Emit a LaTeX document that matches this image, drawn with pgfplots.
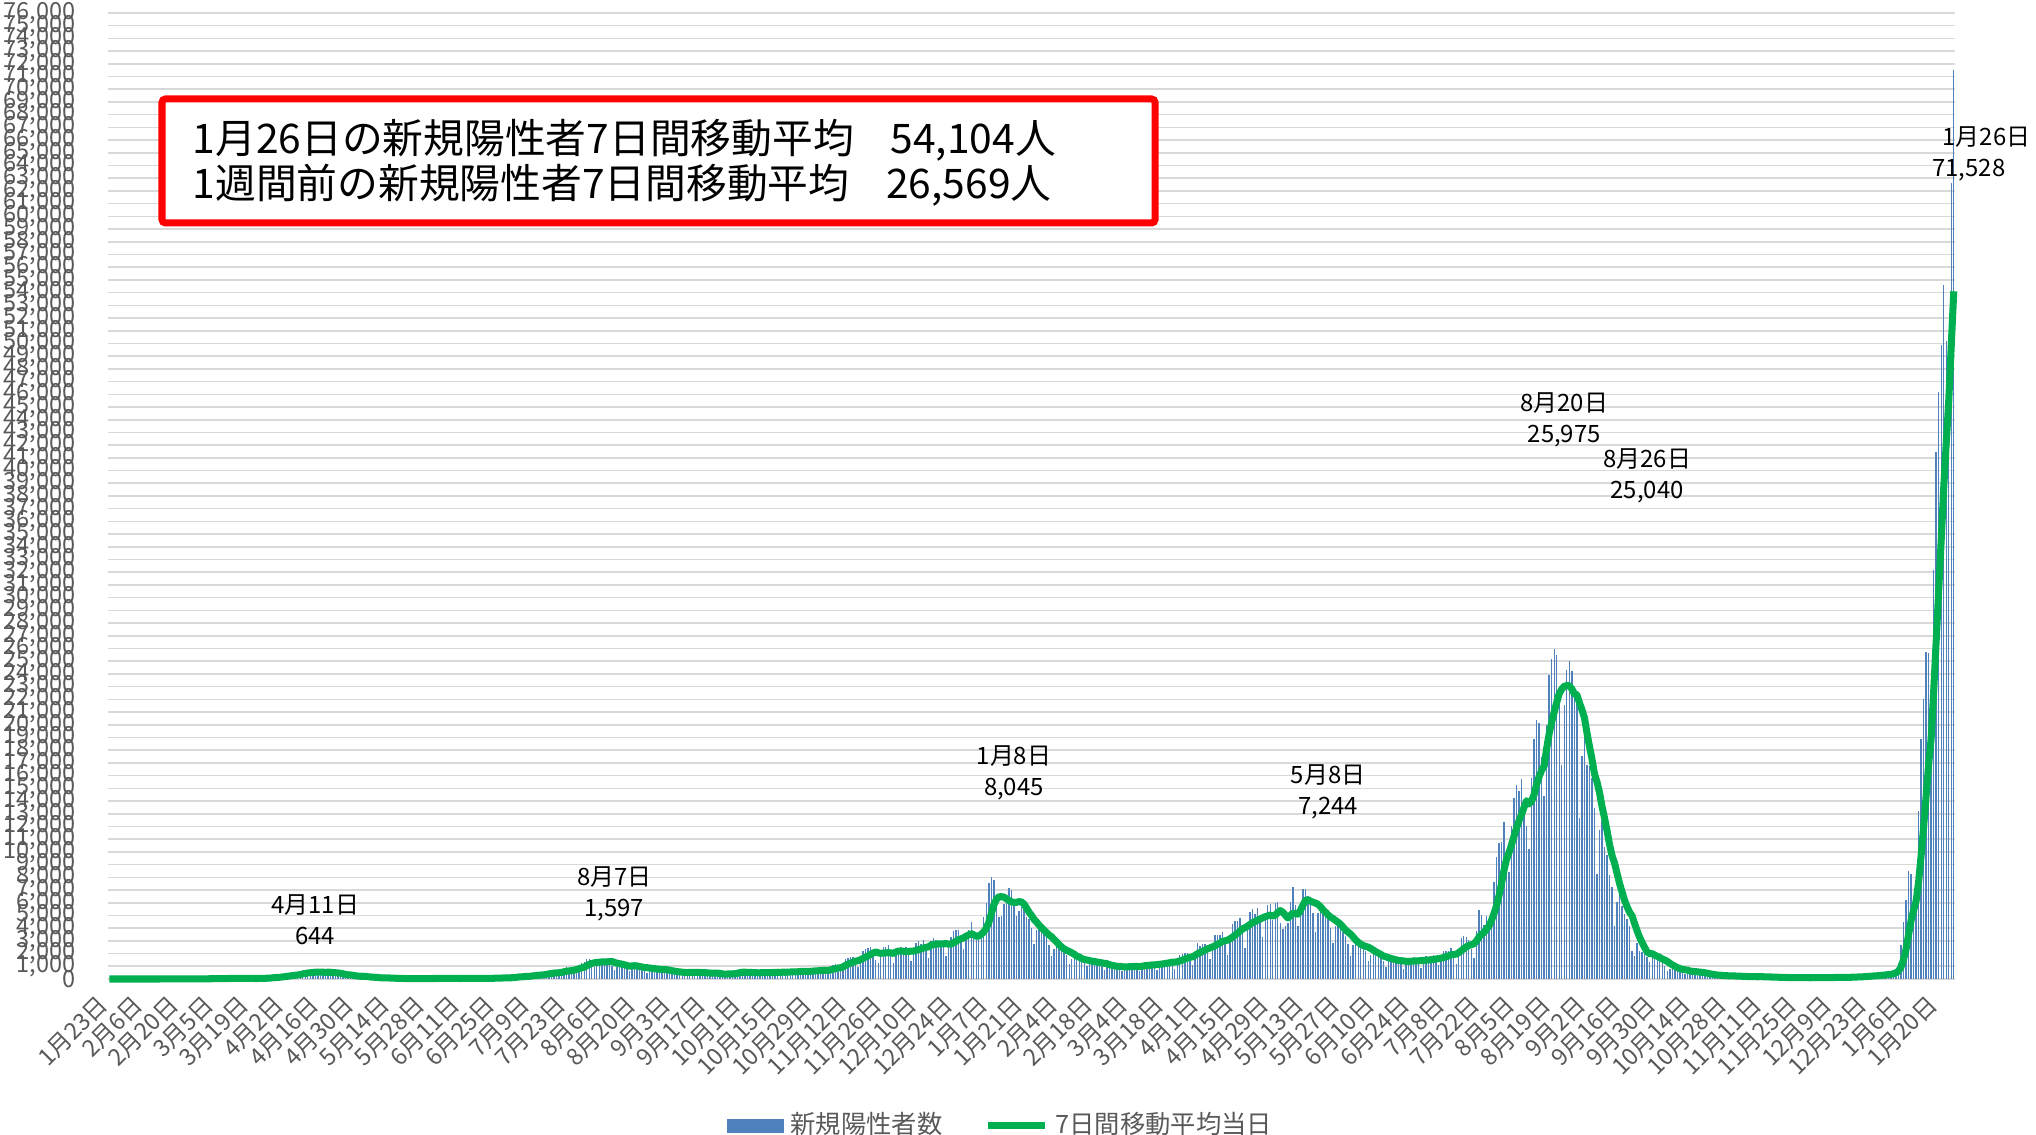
\documentclass[border=0pt]{standalone}
\usepackage{fontspec}
\setmainfont{Noto Sans CJK JP}
\usepackage{pgfplots}
\usepackage{pgfplotstable}
\pgfplotsset{compat=1.18}
\definecolor{barblue}{HTML}{4F81BD}
\definecolor{avggreen}{HTML}{00B050}
\definecolor{gridgray}{HTML}{D9D9D9}
\definecolor{labgray}{HTML}{595959}

\pgfplotstableread{
d c a
0 0 0
1 1 0
2 1 0
3 0 0
4 0 0
5 2 1
6 1 1
7 3 1
8 2 1
9 1 1
10 0 1
11 0 1
12 0 1
13 1 1
14 2 1
15 1 1
16 0 1
17 1 1
18 0 1
19 0 1
20 3 1
21 6 2
22 12 3
23 8 4
24 5 5
25 4 6
26 6 7
27 8 7
28 12 8
29 14 8
30 15 9
31 11 10
32 10 11
33 14 12
34 20 14
35 22 15
36 25 17
37 20 18
38 16 18
39 12 18
40 20 19
41 31 21
42 36 23
43 50 27
44 45 30
45 36 33
46 25 35
47 38 38
48 55 41
49 52 43
50 54 44
51 62 46
52 39 46
53 15 44
54 42 45
55 44 44
56 39 42
57 56 42
58 40 40
59 43 40
60 35 43
61 65 46
62 93 53
63 96 61
64 123 71
65 200 94
66 173 113
67 87 120
68 191 138
69 266 163
70 235 183
71 364 217
72 368 241
73 383 271
74 252 295
75 351 318
76 515 354
77 576 403
78 579 434
79 644 473
80 507 491
81 391 511
82 513 534
83 549 539
84 552 536
85 567 534
86 581 525
87 568 534
88 360 530
89 374 510
90 438 494
91 440 478
92 402 454
93 297 413
94 197 360
95 194 336
96 267 321
97 233 292
98 187 256
99 201 227
100 215 215
101 202 216
102 116 205
103 87 179
104 98 160
105 84 145
106 107 132
107 102 116
108 65 96
109 45 86
110 85 86
111 60 81
112 55 77
113 54 69
114 31 59
115 25 53
116 25 50
117 31 42
118 23 37
119 33 34
120 21 29
121 26 28
122 14 26
123 21 25
124 41 27
125 38 29
126 43 30
127 48 34
128 50 37
129 37 40
130 18 40
131 51 41
132 40 41
133 48 42
134 44 41
135 49 41
136 46 42
137 27 43
138 35 41
139 40 41
140 42 40
141 63 43
142 52 43
143 72 47
144 38 49
145 44 50
146 45 51
147 41 51
148 69 52
149 68 54
150 38 49
151 37 49
152 54 50
153 95 57
154 96 65
155 105 70
156 92 73
157 111 83
158 86 90
159 84 94
160 125 98
161 194 112
162 251 133
163 273 159
164 207 173
165 135 180
166 205 197
167 202 208
168 355 231
169 429 256
170 413 276
171 339 295
172 269 314
173 323 331
174 444 366
175 623 405
176 598 429
177 659 464
178 499 487
179 313 493
180 521 521
181 792 571
182 920 614
183 773 639
184 785 657
185 818 703
186 597 744
187 984 810
188 1264 877
189 1301 931
190 1580 1046
191 1536 1153
192 1331 1226
193 905 1270
194 1236 1306
195 1352 1319
196 1485 1345
197 1597 1347
198 1566 1351
199 1445 1367
200 1000 1381
201 700 1304
202 969 1249
203 1177 1205
204 1360 1171
205 1232 1123
206 1020 1062
207 612 1007
208 874 1032
209 1071 1047
210 1030 1026
211 1035 980
212 1000 947
213 740 907
214 491 890
215 695 864
216 849 832
217 895 813
218 869 789
219 848 767
220 601 747
221 433 739
222 630 730
223 595 694
224 576 648
225 665 619
226 589 582
227 430 558
228 271 535
229 500 516
230 510 504
231 646 514
232 651 512
233 640 519
234 434 520
235 271 520
236 362 500
237 498 498
238 582 489
239 509 469
240 576 460
241 420 458
242 263 457
243 281 445
244 195 402
245 479 387
246 551 393
247 645 403
248 470 410
249 300 415
250 516 449
251 600 507
252 638 530
253 581 534
254 577 524
255 404 515
256 249 508
257 511 507
258 479 490
259 624 488
260 684 503
261 522 495
262 463 503
263 246 503
264 538 507
265 584 522
266 687 531
267 621 522
268 627 537
269 403 528
270 315 538
271 616 549
272 700 566
273 612 555
274 739 572
275 748 589
276 488 601
277 361 608
278 555 599
279 710 600
280 797 626
281 771 631
282 862 647
283 612 665
284 480 682
285 600 688
286 640 678
287 1050 714
288 1134 766
289 1181 812
290 946 860
291 650 884
292 1068 951
293 1544 1080
294 1659 1167
295 1708 1249
296 1736 1328
297 1438 1398
298 950 1441
299 1692 1530
300 2201 1624
301 2386 1728
302 2425 1830
303 2508 1940
304 2167 2044
305 1518 2125
306 1231 2059
307 1945 2022
308 2503 2039
309 2508 2051
310 2674 2075
311 2040 2057
312 1228 2015
313 1990 2124
314 2433 2194
315 2518 2196
316 2437 2186
317 2508 2162
318 2027 2160
319 1427 2189
320 2024 2193
321 2810 2247
322 2973 2312
323 2774 2360
324 3041 2436
325 2397 2489
326 1680 2525
327 2987 2663
328 3211 2720
329 3049 2731
330 2983 2761
331 2992 2754
332 2494 2768
333 1810 2787
334 2666 2741
335 3269 2749
336 3740 2848
337 3823 2968
338 3880 3095
339 2949 3160
340 2395 3244
341 3600 3377
342 3852 3460
343 4520 3571
344 3158 3476
345 3059 3359
346 3128 3385
347 3325 3518
348 4915 3706
349 6004 4013
350 7570 4449
351 8045 5147
352 7790 5823
353 6094 6247
354 4876 6469
355 4926 6471
356 5875 6453
357 6604 6315
358 7133 6185
359 7014 6074
360 5759 6026
361 4925 6033
362 5320 6089
363 5654 6057
364 5585 5911
365 4862 5587
366 4714 5258
367 3990 5005
368 2762 4696
369 3852 4486
370 3960 4244
371 4132 4036
372 3532 3846
373 3344 3650
374 2673 3462
375 1792 3323
376 2324 3105
377 2631 2915
378 2576 2693
379 2287 2515
380 2272 2362
381 1901 2252
382 1219 2170
383 1569 2062
384 1880 1955
385 1480 1798
386 1765 1724
387 1462 1608
388 1357 1530
389 1000 1499
390 1230 1451
391 1529 1401
392 1386 1388
393 1371 1332
394 1286 1307
395 1099 1270
396 740 1233
397 1077 1211
398 930 1125
399 1068 1080
400 1084 1039
401 993 997
402 1058 991
403 658 979
404 824 943
405 1031 957
406 1132 966
407 1150 975
408 1064 985
409 1048 984
410 600 976
411 997 1001
412 1316 1042
413 1292 1065
414 1212 1074
415 1327 1112
416 1062 1114
417 728 1132
418 1187 1159
419 1453 1179
420 1509 1210
421 1473 1247
422 1529 1276
423 1371 1320
424 817 1333
425 1314 1351
426 1915 1417
427 1973 1483
428 2045 1565
429 2084 1644
430 1785 1703
431 1073 1740
432 2073 1848
433 2843 1981
434 2600 2071
435 2763 2174
436 2772 2272
437 2471 2370
438 1571 2441
439 2659 2525
440 3451 2612
441 3447 2733
442 3453 2832
443 3697 2964
444 2776 3007
445 1923 3057
446 3446 3170
447 4306 3292
448 4570 3452
449 4532 3606
450 4799 3764
451 4120 3956
452 2472 4034
453 4343 4162
454 5290 4303
455 5505 4437
456 5119 4521
457 5597 4635
458 4606 4704
459 3311 4824
460 4853 4897
461 5792 4969
462 5910 5027
463 4670 4963
464 5982 5018
465 6056 5225
466 4435 5386
467 3930 5254
468 4169 5022
469 4371 4802
470 6053 4999
471 7244 5179
472 5802 5143
473 4157 5103
474 5880 5382
475 7057 5795
476 7056 6179
477 6500 6243
478 6420 6125
479 5228 6043
480 3677 5974
481 5225 5880
482 5706 5687
483 5290 5435
484 5234 5254
485 4966 5046
486 3976 4867
487 2862 4751
488 4204 4605
489 4720 4464
490 4136 4299
491 3692 4079
492 3386 3853
493 2779 3682
494 1788 3529
495 2656 3308
496 3045 3069
497 2879 2889
498 2622 2736
499 2711 2640
500 2234 2562
501 1394 2506
502 1894 2397
503 2195 2276
504 1937 2141
505 1968 2048
506 1930 1936
507 1386 1815
508 933 1749
509 1417 1681
510 1754 1618
511 1554 1563
512 1626 1514
513 1539 1458
514 1277 1442
515 813 1425
516 1204 1395
517 1644 1379
518 1681 1397
519 1734 1412
520 1654 1428
521 1299 1431
522 896 1443
523 1330 1461
524 1796 1483
525 1755 1494
526 1814 1505
527 1892 1539
528 1570 1578
529 1076 1604
530 1564 1637
531 2192 1694
532 2228 1762
533 2238 1822
534 2449 1902
535 1794 1934
536 1216 1954
537 2387 2072
538 3190 2215
539 3416 2385
540 3284 2534
541 3099 2627
542 2328 2703
543 1691 2771
544 3748 2965
545 5395 3280
546 5021 3509
547 4224 3643
548 4943 3906
549 4070 4155
550 4692 4584
551 7629 5138
552 9576 5735
553 10693 6545
554 10743 7476
555 12341 8533
556 10169 9404
557 8392 9933
558 12017 10560
559 14207 11222
560 15263 11875
561 14825 12458
562 15753 12945
563 14069 13502
564 12070 14027
565 10210 13769
566 15812 13998
567 18889 14516
568 20366 15308
569 20151 15936
570 17477 16423
571 14429 16760
572 19955 18152
573 23917 19310
574 25156 20205
575 25975 21006
576 25492 21769
577 22285 22456
578 16838 22800
579 21570 23031
580 24311 23087
581 25040 23070
582 24234 22821
583 22738 22428
584 21843 22365
585 12656 21768
586 17561 21195
587 20032 20584
588 16800 19407
589 16752 18338
590 15807 17348
591 13489 16155
592 8239 15524
593 11753 14694
594 12396 13603
595 10395 12688
596 9779 11692
597 8210 10607
598 7223 9712
599 4171 9131
600 6053 8317
601 6806 7518
602 5731 6852
603 5080 6181
604 4719 5682
605 4169 5246
606 2208 4966
607 1775 4355
608 2795 3782
609 2220 3280
610 2130 2859
611 2000 2471
612 1700 2118
613 1300 1988
614 1800 1992
615 2000 1878
616 1573 1786
617 1452 1689
618 1233 1579
619 1019 1482
620 594 1381
621 800 1238
622 1128 1113
623 830 1007
624 720 902
625 660 820
626 615 762
627 358 728
628 616 702
629 623 630
630 630 601
631 608 585
632 527 566
633 429 539
634 253 524
635 372 489
636 388 455
637 345 414
638 324 373
639 290 339
640 263 315
641 156 301
642 228 280
643 283 265
644 278 255
645 277 248
646 285 247
647 188 236
648 86 226
649 229 226
650 156 208
651 227 201
652 231 194
653 235 187
654 162 183
655 106 186
656 155 175
657 197 181
658 207 178
659 183 171
660 175 163
661 135 159
662 80 155
663 103 148
664 155 142
665 123 130
666 146 125
667 133 119
668 97 114
669 50 110
670 116 112
671 76 101
672 127 102
673 131 100
674 133 100
675 102 101
676 67 103
677 81 98
678 138 107
679 124 107
680 118 105
681 133 105
682 130 109
683 58 108
684 106 112
685 143 113
686 148 116
687 154 121
688 160 125
689 128 125
690 85 129
691 113 130
692 156 132
693 178 136
694 211 144
695 213 152
696 183 160
697 136 167
698 186 177
699 252 191
700 266 204
701 309 218
702 357 238
703 262 249
704 225 262
705 339 284
706 392 304
707 402 323
708 503 351
709 458 365
710 553 407
711 782 487
712 1265 619
713 2638 940
714 4475 1522
715 6214 2338
716 8480 3484
717 8249 4583
718 6438 5391
719 6377 6121
720 13244 7636
721 18860 9691
722 22045 11953
723 25742 14419
724 25630 16902
725 20645 18932
726 32197 22621
727 41485 26569
728 46199 30561
729 49854 34534
730 54576 38653
731 50175 42159
732 43988 45494
733 62613 49839
734 71528 54104
}\datatable

\begin{document}
\begin{tikzpicture}
\path[use as bounding box] (0,0) rectangle (20.36,11.35);
\begin{axis}[
  at={(1.08cm,1.56cm)}, anchor=south west,
  width=18.47cm, height=9.66cm, scale only axis,
  xmin=-0.5, xmax=734.5, ymin=0, ymax=76000,
  enlargelimits=false, clip=false,
  axis x line*=bottom, axis y line*=left,
  x axis line style={draw=gridgray, line width=0.6pt},
  y axis line style={draw=none},
  major tick length=0pt,
  ymajorgrids, major grid style={draw=gridgray, line width=0.45pt},
  ytick distance=1000,
  scaled y ticks=false,
  /pgf/number format/1000 sep={,},
  /pgf/number format/assume math mode=true,
  yticklabel style={font=\fontsize{6.7}{7}\selectfont, text=labgray, xshift=-0.2cm},
  xtick={0,14,...,728},
  xticklabels={1月23日,2月6日,2月20日,3月5日,3月19日,4月2日,4月16日,4月30日,5月14日,5月28日,6月11日,6月25日,7月9日,7月23日,8月6日,8月20日,9月3日,9月17日,10月1日,10月15日,10月29日,11月12日,11月26日,12月10日,12月24日,1月7日,1月21日,2月4日,2月18日,3月4日,3月18日,4月1日,4月15日,4月29日,5月13日,5月27日,6月10日,6月24日,7月8日,7月22日,8月5日,8月19日,9月2日,9月16日,9月30日,10月14日,10月28日,11月11日,11月25日,12月9日,12月23日,1月6日,1月20日},
  xticklabel style={font=\fontsize{6.7}{7}\selectfont, text=labgray, yshift=-0.13cm, xshift=0.03cm, rotate=45, anchor=east},
  legend style={at={(0.4846,-0.152)}, anchor=center, draw=none, fill=none,
    legend columns=2, font=\fontsize{7.2}{8}\selectfont, text=labgray,
    /tikz/every even column/.append style={column sep=0.35cm}},
  legend cell align=left,
]
\addplot[ycomb, draw=barblue, line width=0.4pt, no markers,
  legend image code/.code={\fill[barblue] (0cm,-0.06cm) rectangle (0.55cm,0.06cm);}]
  table[x=d, y=c]{\datatable};
\addlegendentry{新規陽性者数}
\addplot[draw=avggreen, line width=2pt, no markers, line join=round,
  legend image code/.code={\draw[avggreen, line width=2pt] (0cm,0cm) -- (0.57cm,0cm);}]
  table[x=d, y=a]{\datatable};
\addlegendentry{7日間移動平均当日}

\begin{scope}[every node/.style={font=\fontsize{6.8}{8.8}\selectfont, align=center, text=black}]
\node at (axis cs:82,4680) {4月11日\\644};
\node at (axis cs:201,6720) {8月7日\\1,597};
\node at (axis cs:360,16200) {1月8日\\8,045};
\node at (axis cs:485,14750) {5月8日\\7,244};
\node at (axis cs:579,44000) {8月20日\\25,975};
\node at (axis cs:612,39600) {8月26日\\25,040};
\node at (axis cs:747,66200) {1月26日};
\node at (axis cs:740,63650) {71,528};
\end{scope}
\end{axis}
\draw[red, line width=2pt, fill=white, rounded corners=1pt] (1.62,9.12) rectangle (11.55,10.36);
\node[anchor=west, align=left, font=\fontsize{11.6}{12.8}\selectfont, inner sep=0pt] at (1.92,9.72)
  {1月26日の新規陽性者7日間移動平均\hspace{0.9em}54,104人\\1週間前の新規陽性者7日間移動平均\hspace{0.9em}26,569人};
\end{tikzpicture}
\end{document}
